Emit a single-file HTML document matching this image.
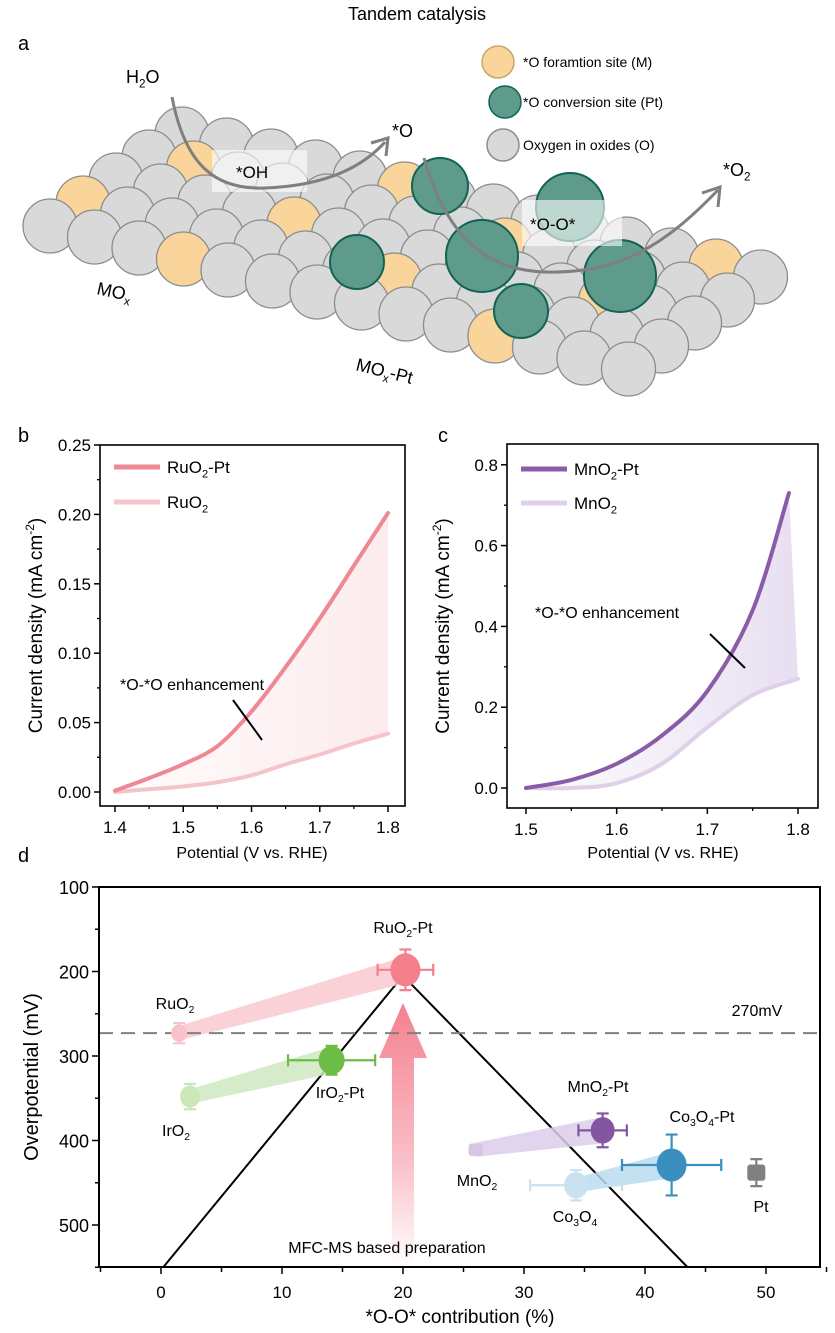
<!DOCTYPE html>
<html><head><meta charset="utf-8"><style>
html,body{margin:0;padding:0;background:#fff;}
svg{display:block;font-family:"Liberation Sans",sans-serif;}
</style></head><body>
<svg id="fig" width="835" height="1333" viewBox="0 0 835 1333">
<defs>
<linearGradient id="gb" x1="0" x2="1" y1="0" y2="0"><stop offset="0" stop-color="#fdf0f2" stop-opacity="0.3"/><stop offset="1" stop-color="#fbdde1" stop-opacity="0.6"/></linearGradient>
<linearGradient id="gc" x1="0" x2="1" y1="0" y2="0"><stop offset="0" stop-color="#f1ebf6" stop-opacity="0.3"/><stop offset="1" stop-color="#ddd1ea" stop-opacity="0.7"/></linearGradient>
<linearGradient id="garrow" x1="0" x2="0" y1="0" y2="1"><stop offset="0" stop-color="#f5808f"/><stop offset="0.6" stop-color="#f9c0c8"/><stop offset="1" stop-color="#ffffff"/></linearGradient>
</defs>
<text x="417" y="20" font-size="18" text-anchor="middle">Tandem catalysis</text>
<text x="18" y="50" font-size="20">a</text>
<text x="18" y="442" font-size="20">b</text>
<text x="438" y="442" font-size="20">c</text>
<text x="18" y="862" font-size="20">d</text>
<g id="pa"></g>
<g id="pb"></g>
<g id="pc"></g>
<g id="pd"></g>
</svg>
<script>
// ---- Panel b data ----
const bX = [1.40,1.45,1.50,1.55,1.60,1.65,1.70,1.75,1.80];
const bRuO2Pt = [0.001,0.010,0.020,0.033,0.058,0.090,0.125,0.163,0.201];
const bRuO2 = [0.000,0.002,0.004,0.007,0.012,0.020,0.027,0.035,0.042];
const bXTicks = [1.4,1.5,1.6,1.7,1.8];
const bYTicks = [0,0.05,0.10,0.15,0.20,0.25];
const bYLabels = ["0.00","0.05","0.10","0.15","0.20","0.25"];
// ---- Panel c data ----
const cX1 = [1.50,1.55,1.60,1.65,1.70,1.75,1.79];
const cMnO2Pt = [0.000,0.020,0.060,0.130,0.240,0.440,0.730];
const cX2 = [1.50,1.55,1.60,1.65,1.70,1.75,1.80];
const cMnO2 = [0.000,0.000,0.012,0.060,0.150,0.230,0.270];
const cXTicks = [1.5,1.6,1.7,1.8];
const cYTicks = [0,0.2,0.4,0.6,0.8];
const cYLabels = ["0.0","0.2","0.4","0.6","0.8"];
// ---- Panel d data ----
const dNames = ["RuO2","RuO2-Pt","IrO2","IrO2-Pt","MnO2","MnO2-Pt","Co3O4","Co3O4-Pt","Pt"];
const dContrib = [1.5,20.2,2.4,14.1,26.0,36.5,34.3,42.2,49.2];
const dOverpot = [273,198,348,305,411,388,453,429,438];
const dXErr = [0,2.3,0,3.6,0,2.0,3.8,4.1,0];
const dYErr = [12,24,15,17,4,20,18,36,16];
const dXTicks = [0,10,20,30,40,50];
const dYTicks = [100,200,300,400,500];
const dRefLine = [273];

const NS="http://www.w3.org/2000/svg";
function mk(parent,tag,attrs){const e=document.createElementNS(NS,tag);for(const k in attrs)e.setAttribute(k,attrs[k]);parent.appendChild(e);return e;}
function smooth(pts){let d="M"+pts[0][0]+","+pts[0][1];for(let i=0;i<pts.length-1;i++){const p0=pts[Math.max(0,i-1)],p1=pts[i],p2=pts[i+1],p3=pts[Math.min(pts.length-1,i+2)];const c1=[p1[0]+(p2[0]-p0[0])/6,p1[1]+(p2[1]-p0[1])/6],c2=[p2[0]-(p3[0]-p1[0])/6,p2[1]-(p3[1]-p1[1])/6];d+=" C"+c1[0]+","+c1[1]+" "+c2[0]+","+c2[1]+" "+p2[0]+","+p2[1];}return d;}
function subTxt(g,x,y,parts,size,anchor,name){const t=mk(g,"text",{x:x,y:y,"font-size":size,"text-anchor":anchor||"start"});

parts.forEach(p=>{const s=mk(t,"tspan",{});if(p[1]){s.setAttribute("font-size",size*0.65);s.setAttribute("dy",size*0.25);}else if(p[2]){s.setAttribute("dy",-size*0.25);}s.textContent=p[0];});return t;}

// ===== Panel a =====
(function(){
const g=document.getElementById("pa");
const O=[50,226],u=[44.5,11],v=[33,-23];
const greens=[[440,186,28],[570,207,34],[482,256,36],[620,276,36],[357,262,27],[521,311,27]];
const circ=[];
for(let j=4;j>=0;j--){for(let i=0;i<14;i++){const x=O[0]+i*u[0]+j*v[0],y=O[1]+i*u[1]+j*v[1];const yellow=((i*3+j*2)%7==2);circ.push([x,y,yellow]);}}
circ.forEach(c=>{const e=mk(g,"circle",{cx:c[0],cy:c[1],r:27,fill:c[2]?"#f9d49b":"#d9d9d9",stroke:"#8c8c8c","stroke-width":1.3});

});
greens.forEach(c=>{const e=mk(g,"circle",{cx:c[0],cy:c[1],r:c[2],fill:"#5e9b8b",stroke:"#116355","stroke-width":2});

});
const b1=mk(g,"rect",{x:212,y:150,width:95,height:42,fill:"#fff","fill-opacity":0.6});
const b2=mk(g,"rect",{x:522,y:200,width:100,height:46,fill:"#fff","fill-opacity":0.6});
const a1=mk(g,"path",{d:"M172,97 C185,165 215,190 265,188 C320,186 360,170 385,142",fill:"none",stroke:"#7f7f7f","stroke-width":3});
const h1=mk(g,"path",{d:"M371,143 L388,138 L386,156",fill:"none",stroke:"#7f7f7f","stroke-width":3});
const a2=mk(g,"path",{d:"M424,158 C445,230 480,270 545,272 C620,274 665,245 718,190",fill:"none",stroke:"#7f7f7f","stroke-width":3});
const h2=mk(g,"path",{d:"M702,193 L720,187 L718,207",fill:"none",stroke:"#7f7f7f","stroke-width":3});
subTxt(g,126,83,[["H"],["2",1],["O",0,1]],18,"start","h2o-label");
subTxt(g,236,178,[["*OH"]],17,"start","oh-label");
subTxt(g,392,137,[["*O"]],18,"start","o-label");
subTxt(g,530,230,[["*O-O*"]],17,"start","ooh-label");
subTxt(g,723,176,[["*O"],["2",1]],18,"start","o2-label");
const m1=subTxt(g,96,294,[["MO"],["x",1]],18,"start","mox-label");m1.setAttribute("transform","rotate(12 96 294)");
const m2=subTxt(g,355,370,[["MO"],["x",1],["-Pt",0,1]],18,"start","mox-pt-label");m2.setAttribute("transform","rotate(14 355 370)");
const leg=[[498,62,"#f9d49b","#c9a56a","*O foramtion site (M)"],[505,102,"#5e9b8b","#116355","*O conversion site (Pt)"],[503,145,"#d9d9d9","#8c8c8c","Oxygen in oxides (O)"]];
leg.forEach((l,k)=>{const c=mk(g,"circle",{cx:l[0],cy:l[1],r:16,fill:l[2],stroke:l[3],"stroke-width":1.5});


subTxt(g,523,l[1]+5,[[l[4]]],14,"start","legend-text-"+k);});
})();

// ===== generic line panel =====
function linePanel(gid,box,sx,sy,xt,xl,yt,yl,minorX,minorY,series,fillId,legend,annot,titleX){
const g=document.getElementById(gid);
const A=series[0],B=series[1];
let fd=smooth(A.x.map((x,i)=>[sx(x),sy(A.y[i])]));
const lastB=B.x.length-1;
fd+=" L"+sx(B.x[lastB])+","+sy(B.y[lastB]);
const bp=B.x.map((x,i)=>[sx(x),sy(B.y[i])]).reverse();
fd+=" "+smooth(bp).replace("M","L")+" Z";
const f=mk(g,"path",{d:fd,fill:"url(#"+fillId+")",stroke:"none"});


series.slice().reverse().forEach(s=>{const p=mk(g,"path",{d:smooth(s.x.map((x,i)=>[sx(x),sy(s.y[i])])),fill:"none",stroke:s.c,"stroke-width":4,"stroke-linecap":"round"});

});
const r=mk(g,"rect",{x:box[0],y:box[2],width:box[1]-box[0],height:box[3]-box[2],fill:"none",stroke:"#000","stroke-width":1.6});


xt.forEach((v,i)=>{const t=mk(g,"line",{x1:sx(v),x2:sx(v),y1:box[3],y2:box[3]+6,stroke:"#000","stroke-width":1.5});
subTxt(g,sx(v),box[3]+27,[[xl[i]]],17,"middle","x-tick-label");});
minorX.forEach(v=>{const t=mk(g,"line",{x1:sx(v),x2:sx(v),y1:box[3],y2:box[3]+3,stroke:"#000","stroke-width":1.3});});
yt.forEach((v,i)=>{const t=mk(g,"line",{x1:box[0]-6,x2:box[0],y1:sy(v),y2:sy(v),stroke:"#000","stroke-width":1.5});
subTxt(g,box[0]-9,sy(v)+6,[[yl[i]]],17,"end","y-tick-label");});
minorY.forEach(v=>{const t=mk(g,"line",{x1:box[0]-3,x2:box[0],y1:sy(v),y2:sy(v),stroke:"#000","stroke-width":1.3});});
subTxt(g,titleX,858,[["Potential (V vs. RHE)"]],16,"middle","x-axis-title");
const yt2=subTxt(g,0,0,[["Current density (mA cm"],["-2",0,0]],19,"middle","y-axis-title");
yt2.lastChild.setAttribute("font-size",12);yt2.lastChild.setAttribute("dy",-8);
const t3=mk(yt2,"tspan",{dy:8});t3.textContent=")";
yt2.setAttribute("transform","translate("+(box[0]-58)+","+((box[2]+box[3])/2)+") rotate(-90)");
legend.forEach((l,k)=>{const ln=mk(g,"line",{x1:box[0]+14,x2:box[0]+60,y1:l.y,y2:l.y,stroke:l.c,"stroke-width":5});
subTxt(g,box[0]+67,l.y+6,[[l.a],["2",1],[l.b,0,1]],17,"start","legend-label-"+k);});
subTxt(g,annot[0],annot[1],[["*O-*O enhancement"]],16,"start","annotation-text");
const al=mk(g,"line",{x1:annot[2],y1:annot[3],x2:annot[4],y2:annot[5],stroke:"#000","stroke-width":2});
}
(function(){
const sx=v=>115+(v-1.4)*682.5, sy=v=>792-v*1388;
linePanel("pb",[100,405,445,806],sx,sy,bXTicks,["1.4","1.5","1.6","1.7","1.8"],bYTicks,bYLabels,[1.45,1.55,1.65,1.75],[0.025,0.075,0.125,0.175,0.225],
[{name:"ruo2-pt-curve",x:bX,y:bRuO2Pt,c:"#ef8795"},{name:"ruo2-curve",x:bX,y:bRuO2,c:"#f5c3ca"}],"gb",
[{y:467,c:"#ef8795",a:"RuO",b:"-Pt"},{y:502,c:"#f5c3ca",a:"RuO",b:""}],[120,690,233,700,262,740],252);
})();
(function(){
const sx=v=>526+(v-1.5)*906.7, sy=v=>788-v*404;
linePanel("pc",[507,818,444,808],sx,sy,cXTicks,["1.5","1.6","1.7","1.8"],cYTicks,cYLabels,[1.55,1.65,1.75],[0.1,0.3,0.5,0.7],
[{name:"mno2-pt-curve",x:cX1,y:cMnO2Pt,c:"#8a5ca8"},{name:"mno2-curve",x:cX2,y:cMnO2,c:"#ddd0e8"}],"gc",
[{y:469,c:"#8a5ca8",a:"MnO",b:"-Pt"},{y:503,c:"#ddd0e8",a:"MnO",b:""}],[535,618,710,634,745,668],663);
})();

// ===== Panel d =====
(function(){
const g=document.getElementById("pd");
const sx=v=>161+v*12.1, sy=v=>887+(v-100)*0.845;
const L=99,R=820,T=887,B=1267;
const cols={"RuO2":"#f7c2c9","RuO2-Pt":"#f47f8d","IrO2":"#cde8b8","IrO2-Pt":"#6cbd45","MnO2":"#d6c6e3","MnO2-Pt":"#8456a2","Co3O4":"#c8e2f0","Co3O4-Pt":"#3a8fc0","Pt":"#808080"};
const bands=[[0,1,"#f9c9cf"],[2,3,"#cfe8bf"],[4,5,"#dccdea"],[6,7,"#b9dcee"]];
const ax=sx(20);
const ar=mk(g,"path",{d:"M"+(ax-11)+","+B+" L"+(ax-11)+",1058 L"+(ax-24)+",1058 L"+ax+",1003 L"+(ax+24)+",1058 L"+(ax+11)+",1058 L"+(ax+11)+","+B+" Z",fill:"url(#garrow)"});


const tri=mk(g,"polyline",{points:sx(0.2)+","+B+" "+sx(20)+","+sy(205)+" "+sx(43.5)+","+B,fill:"none",stroke:"#000","stroke-width":2});


bands.forEach(b=>{const x1=sx(dContrib[b[0]]),y1=sy(dOverpot[b[0]]),x2=sx(dContrib[b[1]]),y2=sy(dOverpot[b[1]]);
const dx=x2-x1,dy=y2-y1,l=Math.hypot(dx,dy),nx=-dy/l,ny=dx/l,w1=7,w2=13;
const p=mk(g,"polygon",{points:[[x1+nx*w1,y1+ny*w1],[x2+nx*w2,y2+ny*w2],[x2-nx*w2,y2-ny*w2],[x1-nx*w1,y1-ny*w1]].map(q=>q.join(",")).join(" "),fill:b[2],"fill-opacity":0.85});

});
const dl=mk(g,"line",{x1:L,x2:R,y1:sy(dRefLine[0]),y2:sy(dRefLine[0]),stroke:"#808080","stroke-width":2,"stroke-dasharray":"14,8"});


const radii=[8,15,10,13,7,12,12,15,9];
dNames.forEach((n,i)=>{const x=sx(dContrib[i]),y=sy(dOverpot[i]),c=cols[n];
if(dXErr[i]>0){const e=mk(g,"path",{d:"M"+sx(dContrib[i]-dXErr[i])+","+y+" H"+sx(dContrib[i]+dXErr[i])+" M"+sx(dContrib[i]-dXErr[i])+","+(y-6)+" v12 M"+sx(dContrib[i]+dXErr[i])+","+(y-6)+" v12",stroke:c,"stroke-width":2.2,fill:"none"});}
const y1=sy(dOverpot[i]-dYErr[i]),y2=sy(dOverpot[i]+dYErr[i]);
const e2=mk(g,"path",{d:"M"+x+","+y1+" V"+y2+" M"+(x-6)+","+y1+" h12 M"+(x-6)+","+y2+" h12",stroke:c,"stroke-width":2.2,fill:"none"});


let m;
if(n==="Pt"||n==="MnO2"){m=mk(g,"rect",{x:x-radii[i],y:y-radii[i]*0.9,width:radii[i]*2,height:radii[i]*1.8,rx:3,fill:c});}
else{m=mk(g,"ellipse",{cx:x,cy:y,rx:radii[i],ry:radii[i]*1.1,fill:c});}

});
const fr=mk(g,"rect",{x:L,y:T,width:R-L,height:B-T,stroke:"#000","stroke-width":2,fill:"none"});


for(let v=-5;v<=55;v+=5){const t=mk(g,"line",{x1:sx(v),x2:sx(v),y1:B,y2:B+(v%10===0?7:5),stroke:"#000","stroke-width":1.5});}
dXTicks.forEach(v=>subTxt(g,sx(v),B+31,[[String(v)]],17,"middle","x-tick-label"));
for(let v=100;v<=550;v+=50){const t=mk(g,"line",{x1:L-(v%100===0?7:4),x2:L,y1:sy(v),y2:sy(v),stroke:"#000","stroke-width":1.5});}
dYTicks.forEach(v=>subTxt(g,L-10,sy(v)+7,[[String(v)]],18,"end","y-tick-label"));
subTxt(g,460,1323,[["*O-O* contribution (%)"]],19,"middle","x-axis-title");
const yt=subTxt(g,0,0,[["Overpotential (mV)"]],20,"middle","y-axis-title");yt.setAttribute("transform","translate(38,1077) rotate(-90)");
subTxt(g,403,933,[["RuO"],["2",1],["-Pt",0,1]],16,"middle","label-ruo2-pt");
subTxt(g,175,1009,[["RuO"],["2",1]],16,"middle","label-ruo2");
subTxt(g,176,1136,[["IrO"],["2",1]],16,"middle","label-iro2");
subTxt(g,340,1098,[["IrO"],["2",1],["-Pt",0,1]],16,"middle","label-iro2-pt");
subTxt(g,598,1092,[["MnO"],["2",1],["-Pt",0,1]],16,"middle","label-mno2-pt");
subTxt(g,477,1186,[["MnO"],["2",1]],16,"middle","label-mno2");
subTxt(g,702,1122,[["Co"],["3",1],["O",0,1],["4",1],["-Pt",0,1]],16,"middle","label-co3o4-pt");
subTxt(g,575,1222,[["Co"],["3",1],["O",0,1],["4",1]],16,"middle","label-co3o4");
subTxt(g,761,1212,[["Pt"]],16,"middle","label-pt");
subTxt(g,757,1016,[["270mV"]],16,"middle","label-270mv");
subTxt(g,387,1253,[["MFC-MS based preparation"]],16,"middle","label-preparation");
})();
</script>
</body></html>
